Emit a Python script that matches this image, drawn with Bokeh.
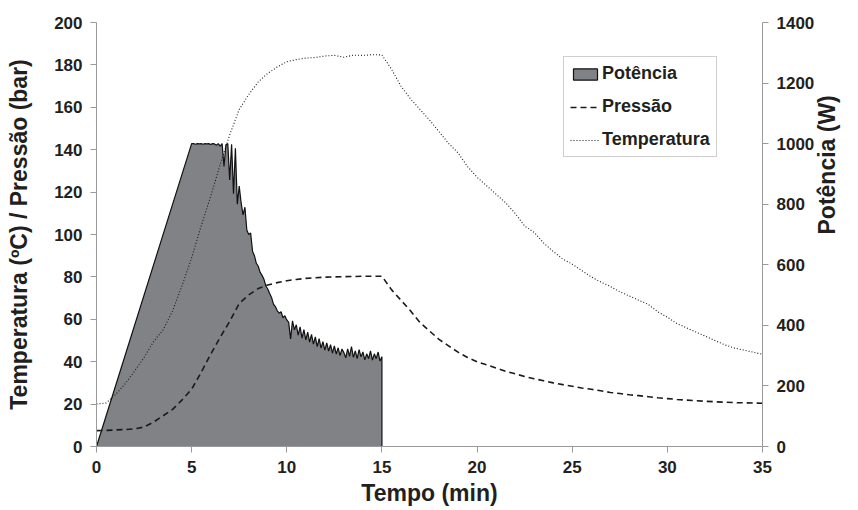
import math
import numpy as np
from bokeh.plotting import figure
from bokeh.models import Range1d, LinearAxis, Legend, LegendItem, FixedTicker
from bokeh.embed import file_html
from bokeh.resources import INLINE

# ---- data ----
temp_t = [0, 0.5, 1.0, 1.5, 2.0, 2.5, 3.0, 3.5, 4.0, 4.5, 5.0, 5.5, 6.0, 6.5, 7.0, 7.5,
          8.0, 8.5, 9.0, 9.5, 10, 10.5, 11, 11.5, 12, 12.5, 13, 13.5, 14, 14.5, 15, 15.5,
          16, 16.5, 17, 17.5, 18, 18.5, 19, 19.5, 20, 20.5, 21, 21.5, 22, 22.5, 23, 23.5,
          24, 24.5, 25, 25.5, 26, 26.5, 27, 27.5, 28, 28.5, 29, 29.5, 30, 30.5, 31, 31.5,
          32, 32.5, 33, 33.5, 34, 34.5, 35]
temp_c = [20, 20.5, 24.5, 29.5, 35.5, 42, 49.5, 55, 64, 76, 89, 104, 118, 133, 147, 159,
          166, 172, 176, 179, 181.5, 182.5, 183.2, 183.5, 184.2, 184.5, 183.6, 184.6, 184.5, 184.8, 184.7, 178,
          170, 164, 159, 154, 148.5, 143, 138.5, 132, 127, 123, 119, 115, 110, 104, 101, 96,
          92, 88.5, 86, 83, 80, 77.6, 75.5, 73, 71, 69, 67, 63.5, 61, 58, 56, 54,
          52, 50, 48, 46.5, 45.5, 44.5, 43.5]
press_bar = [7.5, 7.6, 7.8, 8.0, 8.3, 9.2, 11.5, 14.5, 17.5, 22, 27, 35, 43.5, 51.5, 59, 67.5,
             71.5, 74.5, 76.2, 77.3, 78.2, 78.8, 79.3, 79.6, 79.9, 80, 80.1, 80.2, 80.3, 80.3, 80.3, 74,
             69, 64, 58.5, 54.5, 50.5, 47.5, 44.5, 42, 40, 38.5, 37, 35.5, 34.3, 33, 32, 31,
             30, 29.2, 28.4, 27.6, 27, 26.3, 25.5, 25, 24.4, 24, 23.5, 23, 22.6, 22.2, 21.9, 21.6,
             21.3, 21.1, 20.9, 20.7, 20.6, 20.5, 20.4]

power_vals = [1000, 1000, 998, 1000, 999, 1000, 998, 1000, 999, 1000,
              997, 1000, 999, 995, 1000, 992, 1000, 925, 996, 1000,
              880, 998, 835, 985, 800, 860, 805, 765, 790, 715,
              700, 705, 645, 630, 605, 595, 575, 565, 552, 530,
              520, 505, 492, 470, 462, 448, 440, 445, 425, 432,
              418, 410, 355, 415, 385, 402, 368, 395, 358, 386,
              352, 378, 345, 370, 338, 362, 330, 356, 325, 346,
              318, 342, 315, 336, 308, 332, 305, 326, 300, 322,
              310, 293, 322, 298, 330, 294, 316, 290, 320, 296,
              312, 286, 306, 290, 316, 285, 306, 290, 312, 282,
              296]
power_grid = list(np.round(np.linspace(5.0, 15.0, len(power_vals)), 2))
power_t = [0.0] + power_grid + [15.0]
power_w = [0] + power_vals + [0]

x_ticks = [0, 5, 10, 15, 20, 25, 30, 35]
left_ticks = list(range(0, 201, 20))
right_ticks = list(range(0, 1401, 200))

# ---- figure ----
FONT = "Liberation Sans"
TXT = "#231f20"
AX = "#9a9a9a"

p = figure(width=858, height=510, x_range=Range1d(0, 35), y_range=Range1d(0, 200),
           output_backend="svg", toolbar_location=None,
           min_border_left=96, min_border_right=96, min_border_top=22, min_border_bottom=64)
p.extra_y_ranges = {"w": Range1d(0, 1400)}
p.xgrid.visible = False
p.ygrid.visible = False
p.outline_line_color = None
p.background_fill_color = "white"

pw = p.patch(power_t, power_w, y_range_name="w", fill_color="#818285",
             line_color="#111111", line_width=1.2)
pr = p.line(temp_t, press_bar, line_color="#1a1a1a", line_width=1.6, line_dash="6 4")
tp = p.line(temp_t, temp_c, line_color="#1a1a1a", line_width=1.1, line_dash="1 2")

right = LinearAxis(y_range_name="w", axis_label="Potência (W)")
p.add_layout(right, "right")

for ax, ticks in ((p.xaxis[0], x_ticks), (p.yaxis[0], left_ticks), (right, right_ticks)):
    ax.ticker = FixedTicker(ticks=ticks)
    ax.minor_tick_line_color = None
    ax.major_tick_in = 0
    ax.major_tick_out = 6
    ax.axis_line_color = AX
    ax.major_tick_line_color = AX
    ax.major_label_standoff = 8
    ax.major_label_text_font = FONT
    ax.major_label_text_font_style = "bold"
    ax.major_label_text_font_size = "17px"
    ax.major_label_text_color = TXT
    ax.axis_label_text_font = FONT
    ax.axis_label_text_font_style = "bold"
    ax.axis_label_text_color = TXT

p.xaxis[0].axis_label = "Tempo (min)"
p.xaxis[0].axis_label_text_font_size = "23px"
p.xaxis[0].axis_label_standoff = 4
p.yaxis[0].axis_label = "Temperatura (ºC) / Pressão (bar)"
p.yaxis[0].axis_label_text_font_size = "23px"
p.yaxis[0].axis_label_standoff = 19
right.axis_label_text_font_size = "23px"
right.axis_label_standoff = 10
right.axis_label_orientation = math.pi / 2

legend = Legend(items=[LegendItem(label="Potência", renderers=[pw]),
                       LegendItem(label="Pressão", renderers=[pr]),
                       LegendItem(label="Temperatura", renderers=[tp])],
                location=(467, 289))
legend.label_text_font = FONT
legend.label_text_font_style = "bold"
legend.label_text_font_size = "18px"
legend.label_text_color = TXT
legend.glyph_width = 30
legend.glyph_height = 14
legend.label_height = 20
legend.spacing = 12
legend.padding = 6
legend.margin = 0
legend.label_standoff = 2
legend.border_line_color = "#a0a0a0"
legend.background_fill_color = "white"
legend.background_fill_alpha = 1
p.add_layout(legend, "center")

open("out.html", "w").write(file_html(p, INLINE))
